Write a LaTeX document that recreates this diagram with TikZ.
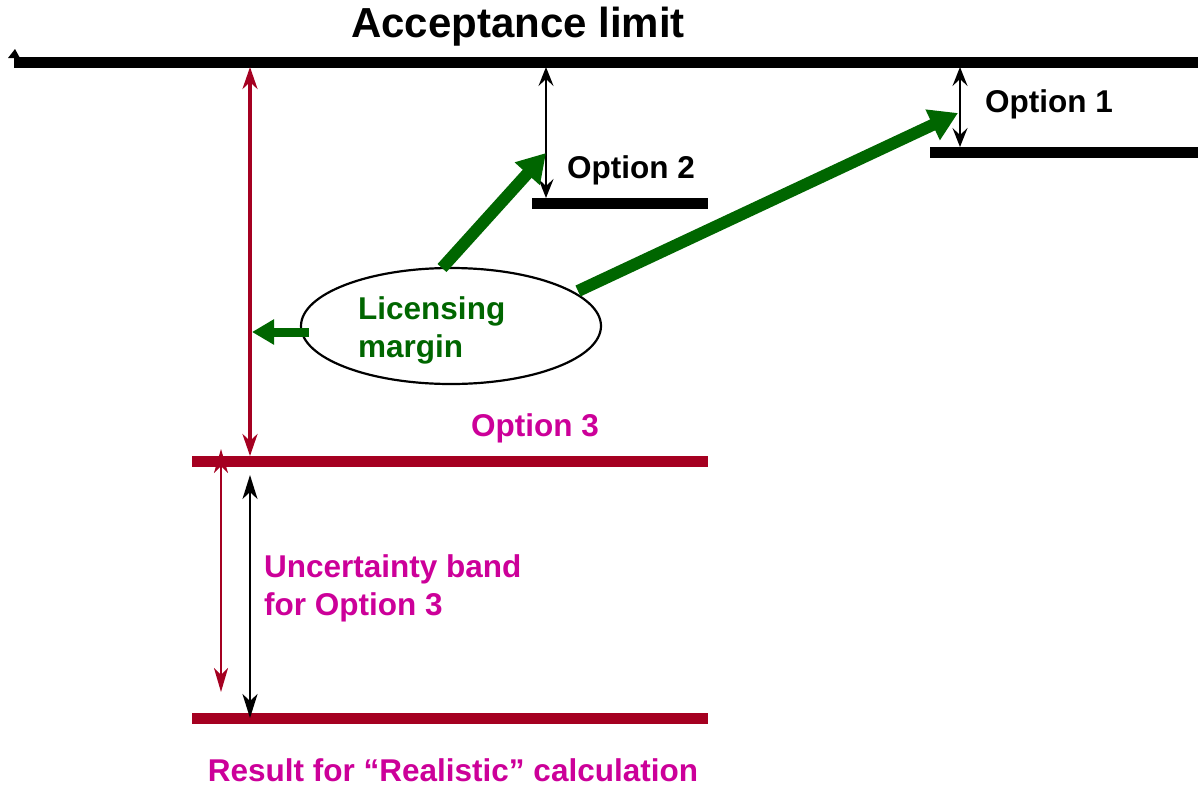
\documentclass[tikz,border=0pt]{standalone}
\usepackage{fontspec}
\setmainfont{Liberation Sans}
\usetikzlibrary{arrows.meta,shapes.geometric}
\definecolor{barred}{RGB}{165,0,33}
\definecolor{labmag}{RGB}{204,0,153}
\definecolor{margreen}{RGB}{0,102,0}
\tikzset{
  level/.style={line width=11pt},
  gap/.style={line width=2pt, {Stealth[length=19pt,width=15pt,inset=7pt]}-{Stealth[length=19pt,width=15pt,inset=7pt]}},
  push/.style={margreen, line width=12pt, -{Triangle[length=28pt,width=32pt]}},
  lab/.style={font=\fontsize{31.5}{38}\selectfont\bfseries, inner sep=0pt},
}

\begin{document}
\begin{tikzpicture}[x=1pt,y=-1pt]
            \useasboundingbox (0,0) rectangle (1198,787);
            % levels
            \coordinate (accL) at (14,62);   \coordinate (accR) at (1198,62);
            \coordinate (opt1L) at (930,152); \coordinate (opt1R) at (1198,152);
            \coordinate (opt2L) at (532,203); \coordinate (opt2R) at (708,203);
            \coordinate (opt3L) at (192,461); \coordinate (opt3R) at (708,461);
            \coordinate (realL) at (192,718); \coordinate (realR) at (708,718);
            \draw[level, black] (accL) -- (accR);
            \fill (8,58) -- (15,49) -- (20,58) -- cycle;
            \draw[level, black] (opt1L) -- (opt1R);
            \draw[level, black] (opt2L) -- (opt2R);
            \draw[level, barred] (opt3L) -- (opt3R);
            \draw[level, barred] (realL) -- (realR);
            % labels
            \node[lab, font=\fontsize{42}{48}\selectfont\bfseries] (acc) at (518,27) {Acceptance limit};
            \node[lab, anchor=west] (o1) at (985,104) {Option 1};
            \node[lab, anchor=west] (o2) at (567,170) {Option 2};
            \node[lab, labmag] (o3) at (535,428) {Option 3};
            \node[lab, labmag, anchor=west, align=left] (band) at (264,588) {Uncertainty band\\for Option 3};
            \node[lab, labmag] (real) at (453,770) {Result for “Realistic” calculation};
            % gaps
            \coordinate (g1t) at (960,67);  \coordinate (g1b) at (960,147);
            \coordinate (g2t) at (546,67);  \coordinate (g2b) at (546,198);
            \draw[gap] (g1t) -- (g1b);
            \draw[gap] (g2t) -- (g2b);
            \coordinate (g3t) at (250,67);  \coordinate (g3b) at (250,456);
            \draw[barred, line width=3.5pt, {Stealth[length=22pt,width=15pt,inset=7pt]}-{Stealth[length=22pt,width=15pt,inset=7pt]}] (g3t) -- (g3b);
            \coordinate (u1t) at (221,449); \coordinate (u1b) at (221,692);
            \draw[barred, line width=2.5pt, {Stealth[length=24pt,width=14pt,inset=7pt]}-{Stealth[length=24pt,width=14pt,inset=7pt]}] (u1t) -- (u1b);
            \coordinate (u2t) at (250,475); \coordinate (u2b) at (250,718);
            \draw[line width=2.5pt, {Stealth[length=24pt,width=15pt,inset=7pt]}-{Stealth[length=24pt,width=15pt,inset=7pt]}] (u2t) -- (u2b);
            % licensing margin
            \node[draw, ellipse, line width=2.2pt, minimum width=300pt, minimum height=116pt] (margin) at (451,326) {};
            \node[lab, margreen, anchor=west, align=left] (lic) at (358,330) {Licensing\\margin};
            \coordinate (p1s) at (442,268); \coordinate (p1e) at (546,153);
            \coordinate (p2s) at (578,291); \coordinate (p2e) at (958,113);
            \coordinate (p3s) at (309,332); \coordinate (p3e) at (252,332);
            \draw[push] (p1s) -- (p1e);
            \draw[push] (p2s) -- (p2e);
            \draw[push, line width=9pt, -{Triangle[length=22pt,width=24pt]}] (p3s) -- (p3e);
        \end{tikzpicture}
\end{document}
